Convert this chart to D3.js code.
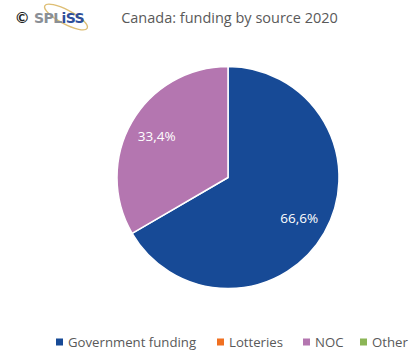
<!DOCTYPE html>
<html>
<head>
<meta charset="utf-8">
<script src="https://cdn.jsdelivr.net/npm/d3@7"></script>
<style>
  html, body { margin: 0; padding: 0; background: #fff; }
  svg { display: block; font-family: "Open Sans", Lato, sans-serif; }
</style>
</head>
<body>
<svg id="chart" width="412" height="355"></svg>
<script>
// Funding sources and their shares (percent)
const categories = ["Government funding", "Lotteries", "NOC", "Other"];
const shares = [66.6, 0, 33.4, 0];
const colors = ["#174A96", "#F07021", "#B476B0", "#8BB556"];
const titleText = "Canada: funding by source 2020";

const svg = d3.select("#chart");
const cx = 228, cy = 177.5, R = 111;

const data = categories.map((c, i) => ({ name: c, value: shares[i], color: colors[i] }));

// Title
svg.append("text")
  .attr("x", 229.5).attr("y", 22.5)
  .attr("text-anchor", "middle")
  .attr("font-size", 14.5)
  .attr("fill", "#595959")
  .text(titleText);

// Logo: copyright sign + SPLISS wordmark with orbit
const logo = svg.append("g");
logo.append("text")
  .attr("x", 16).attr("y", 23)
  .attr("font-size", 15).attr("font-weight", "bold")
  .attr("font-family", "Lato, sans-serif")
  .attr("fill", "#222")
  .text("©");
logo.append("ellipse")
  .attr("cx", 66).attr("cy", 17)
  .attr("rx", 24).attr("ry", 7)
  .attr("transform", "rotate(28 66 17)")
  .attr("fill", "none")
  .attr("stroke", "#D8B35C")
  .attr("stroke-width", 1.4)
  .attr("opacity", 0.85);
const word = logo.append("text")
  .attr("x", 34).attr("y", 23)
  .attr("font-size", 14).attr("font-weight", "900")
  .attr("font-family", "'DejaVu Sans', sans-serif")
  .attr("letter-spacing", -0.6);
word.append("tspan").attr("fill", "#8A8F96").text("SPL");
word.append("tspan").attr("fill", "#2F4F9A").text("iSS");

// Pie
const pie = d3.pie().value(d => d.value).sort(null);
const arc = d3.arc().innerRadius(0).outerRadius(R);
const labelArc = d3.arc().innerRadius(R * 0.74).outerRadius(R * 0.74);

const g = svg.append("g").attr("transform", `translate(${cx},${cy})`);
const arcs = pie(data).filter(d => d.data.value > 0);

g.selectAll("path")
  .data(arcs)
  .join("path")
  .attr("d", arc)
  .attr("fill", d => d.data.color)
  .attr("stroke", "#fff")
  .attr("stroke-width", 1.5)
  .attr("stroke-linejoin", "round");

g.selectAll("text.lbl")
  .data(arcs)
  .join("text")
  .attr("class", "lbl")
  .attr("transform", d => `translate(${labelArc.centroid(d)})`)
  .attr("text-anchor", "middle")
  .attr("dy", "0.35em")
  .attr("font-size", 13.5)
  .attr("fill", "#fff")
  .text(d => d3.format(".1f")(d.data.value).replace(".", ",") + "%");

// Legend
const legendX = [56, 217, 303, 360];
const legend = svg.append("g");
const items = legend.selectAll("g")
  .data(data)
  .join("g")
  .attr("transform", (d, i) => `translate(${legendX[i]},342)`);
items.append("rect")
  .attr("x", 0).attr("y", -3.5)
  .attr("width", 7).attr("height", 7)
  .attr("fill", d => d.color);
items.append("text")
  .attr("x", 12).attr("y", 0)
  .attr("dy", "0.35em")
  .attr("font-size", 13.2)
  .attr("fill", "#595959")
  .text(d => d.name);
</script>
</body>
</html>
